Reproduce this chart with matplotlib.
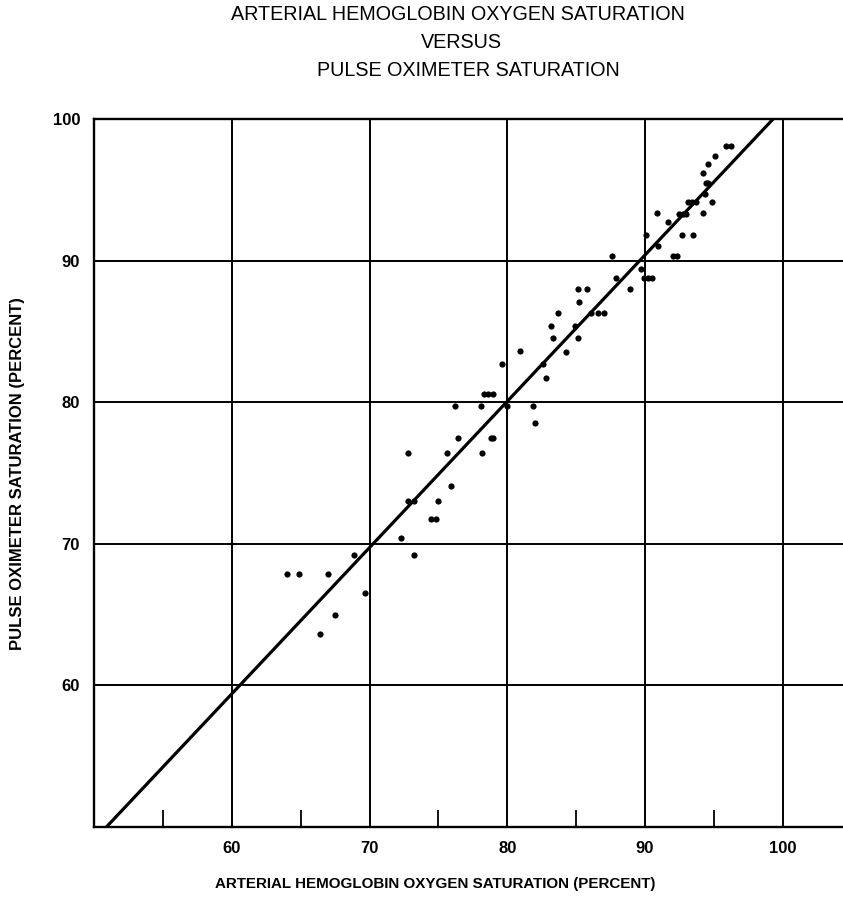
import matplotlib
matplotlib.use("Agg")
import matplotlib.pyplot as plt

plt.rcParams['font.family'] = ['Liberation Sans', 'DejaVu Sans']

# Data (arterial SaO2 %, pulse oximeter SpO2 %)
sao2 = [64.0, 64.9, 67.0, 66.4, 67.5, 68.9, 69.7, 72.3, 73.2, 72.8, 73.2, 75.0,
        74.5, 74.8, 72.8, 75.6, 75.9, 76.4, 78.2, 78.8, 79.0, 76.2, 78.1, 80.0,
        81.9, 82.0, 78.3, 78.6, 79.0, 79.6, 82.6, 82.8, 80.9, 84.3, 83.3, 85.1,
        83.2, 84.9, 83.7, 86.1, 86.6, 87.0, 85.2, 85.1, 85.8, 88.9, 87.9, 89.9,
        90.2, 90.5, 89.7, 87.6, 92.0, 92.3, 90.95, 90.1, 92.7, 93.5, 91.7, 90.9,
        92.45, 92.75, 93.0, 94.2, 93.1, 93.4, 93.7, 94.9, 94.35, 94.4, 94.6, 94.2,
        94.6, 95.1, 95.9, 96.25]
spo2 = [67.9, 67.9, 67.9, 63.6, 65.0, 69.2, 66.5, 70.4, 69.2, 73.0, 73.0, 73.0,
        71.75, 71.75, 76.4, 76.4, 74.1, 77.5, 76.4, 77.5, 77.5, 79.7, 79.7, 79.7,
        79.7, 78.5, 80.6, 80.6, 80.6, 82.7, 82.7, 81.7, 83.6, 83.55, 84.5, 84.5,
        85.4, 85.4, 86.3, 86.3, 86.3, 86.3, 87.1, 88.0, 88.0, 88.0, 88.8, 88.75,
        88.75, 88.75, 89.4, 90.3, 90.3, 90.3, 91.05, 91.8, 91.8, 91.8, 92.75, 93.35,
        93.3, 93.3, 93.3, 93.35, 94.15, 94.15, 94.15, 94.15, 94.7, 95.5, 95.5, 96.2,
        96.8, 97.4, 98.1, 98.1]

# Fitted line endpoints
line_x = [50.9, 99.3]
line_y = [50.0, 100.0]

major_ticks = [60, 70, 80, 90, 100]
minor_ticks = [55, 65, 75, 85, 95]
y_grid = [60, 70, 80, 90]

W, H = 843, 908
fig = plt.figure(figsize=(W / 100, H / 100), dpi=100)
left, right, top, bottom = 94, 843, 119, 827
ax = fig.add_axes([left / W, 1 - bottom / H, (right - left) / W, (bottom - top) / H])

xmin = 50.0
xmax = 50.0 + (right - left) / 13.775
ax.set_xlim(xmin, xmax)
ax.set_ylim(50, 100)

for v in major_ticks:
    ax.axvline(v, color='black', lw=1.4, zorder=1)
for v in y_grid:
    ax.axhline(v, color='black', lw=1.4, zorder=1)

ax.plot(line_x, line_y, color='black', lw=2.3, zorder=2, solid_capstyle='butt')
ax.scatter(sao2, spo2, s=20, color='black', zorder=3, linewidths=0)

ax.spines['right'].set_visible(False)
for s in ['left', 'top', 'bottom']:
    ax.spines[s].set_linewidth(1.7)

ax.set_xticks(major_ticks)
ax.set_xticks(minor_ticks, minor=True)
ax.set_yticks([60, 70, 80, 90, 100])
ax.tick_params(axis='both', which='major', length=0, pad=10, labelsize=12)
ax.tick_params(axis='x', which='minor', direction='in', length=12, width=1.3)
ax.tick_params(axis='y', which='minor', length=0)
for lbl in ax.get_xticklabels() + ax.get_yticklabels():
    lbl.set_fontweight('bold')

fig.text(458 / W, 1 - 15 / H, 'ARTERIAL HEMOGLOBIN OXYGEN SATURATION', ha='center', va='center', fontsize=14.2)
fig.text(461 / W, 1 - 42 / H, 'VERSUS', ha='center', va='center', fontsize=14.2)
fig.text(468 / W, 1 - 70 / H, 'PULSE OXIMETER SATURATION', ha='center', va='center', fontsize=14.2)

fig.text(435 / W, 1 - 884 / H, 'ARTERIAL HEMOGLOBIN OXYGEN SATURATION (PERCENT)', ha='center', va='center',
         fontsize=10.9, fontweight='bold')
fig.text(18 / W, 1 - 474 / H, 'PULSE OXIMETER SATURATION (PERCENT)', ha='center', va='center',
         rotation=90, fontsize=12, fontweight='bold')

fig.savefig('out.png', dpi=100)
